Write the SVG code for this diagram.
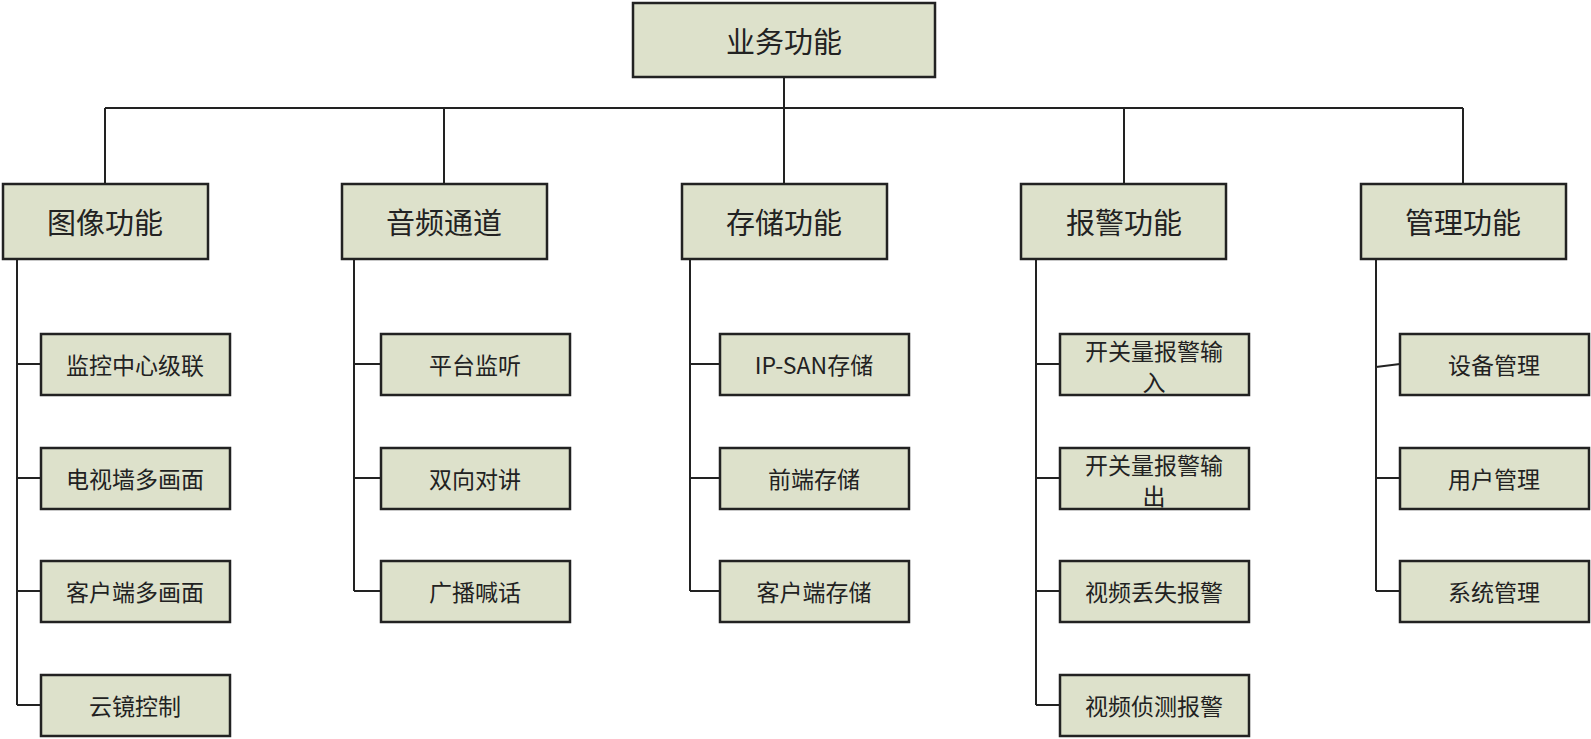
<svg xmlns="http://www.w3.org/2000/svg" width="1591" height="739" viewBox="0 0 1591 739">
<style>
rect{fill:#dde1cb;stroke:#222;stroke-width:2.5}
text{font-family:"Noto Sans CJK SC","Liberation Sans",sans-serif;fill:#222;text-anchor:middle;dominant-baseline:central}
.b{font-size:29px}.s{font-size:23px}
#c path{fill:none;stroke:#222;stroke-width:2}
</style>
<g id="c">
<path d="M784 77V108M105 108H1463M105 108V184M444 108V184M784 108V184M1124 108V184M1463 108V184"/>
<path d="M17 259V705M17 364H41M17 478H41M17 591H41M17 705H41"/>
<path d="M354 259V591M354 364H381M354 478H381M354 591H381"/>
<path d="M690 259V591M690 364H720M690 478H720M690 591H720"/>
<path d="M1036 259V705M1036 364H1060M1036 478H1060M1036 591H1060M1036 705H1060"/>
<path d="M1376 259V591M1376 367L1400 364M1376 478H1400M1376 591H1400"/>
</g>
<g id="root"><rect x="633" y="3" width="302" height="74"/><text class="b" x="784" y="40">业务功能</text></g>
<g id="n1"><rect x="3" y="184" width="205" height="75"/><text class="b" x="105" y="221">图像功能</text></g>
<g id="n2"><rect x="342" y="184" width="205" height="75"/><text class="b" x="444" y="221">音频通道</text></g>
<g id="n3"><rect x="682" y="184" width="205" height="75"/><text class="b" x="784" y="221">存储功能</text></g>
<g id="n4"><rect x="1021" y="184" width="205" height="75"/><text class="b" x="1124" y="221">报警功能</text></g>
<g id="n5"><rect x="1361" y="184" width="205" height="75"/><text class="b" x="1463" y="221">管理功能</text></g>
<g id="a1"><rect x="41" y="334" width="189" height="61"/><text class="s" x="135" y="364">监控中心级联</text></g>
<g id="a2"><rect x="41" y="448" width="189" height="61"/><text class="s" x="135" y="478">电视墙多画面</text></g>
<g id="a3"><rect x="41" y="561" width="189" height="61"/><text class="s" x="135" y="591">客户端多画面</text></g>
<g id="a4"><rect x="41" y="675" width="189" height="61"/><text class="s" x="135" y="705">云镜控制</text></g>
<g id="b1"><rect x="381" y="334" width="189" height="61"/><text class="s" x="475" y="364">平台监听</text></g>
<g id="b2"><rect x="381" y="448" width="189" height="61"/><text class="s" x="475" y="478">双向对讲</text></g>
<g id="b3"><rect x="381" y="561" width="189" height="61"/><text class="s" x="475" y="591">广播喊话</text></g>
<g id="c1"><rect x="720" y="334" width="189" height="61"/><text class="s" x="814" y="364">IP-SAN存储</text></g>
<g id="c2"><rect x="720" y="448" width="189" height="61"/><text class="s" x="814" y="478">前端存储</text></g>
<g id="c3"><rect x="720" y="561" width="189" height="61"/><text class="s" x="814" y="591">客户端存储</text></g>
<g id="d1"><rect x="1060" y="334" width="189" height="61"/><text class="s" x="1154" y="350">开关量报警输</text><text class="s" x="1154" y="381">入</text></g>
<g id="d2"><rect x="1060" y="448" width="189" height="61"/><text class="s" x="1154" y="464">开关量报警输</text><text class="s" x="1154" y="495">出</text></g>
<g id="d3"><rect x="1060" y="561" width="189" height="61"/><text class="s" x="1154" y="591">视频丢失报警</text></g>
<g id="d4"><rect x="1060" y="675" width="189" height="61"/><text class="s" x="1154" y="705">视频侦测报警</text></g>
<g id="e1"><rect x="1400" y="334" width="189" height="61"/><text class="s" x="1494" y="364">设备管理</text></g>
<g id="e2"><rect x="1400" y="448" width="189" height="61"/><text class="s" x="1494" y="478">用户管理</text></g>
<g id="e3"><rect x="1400" y="561" width="189" height="61"/><text class="s" x="1494" y="591">系统管理</text></g>
</svg>
